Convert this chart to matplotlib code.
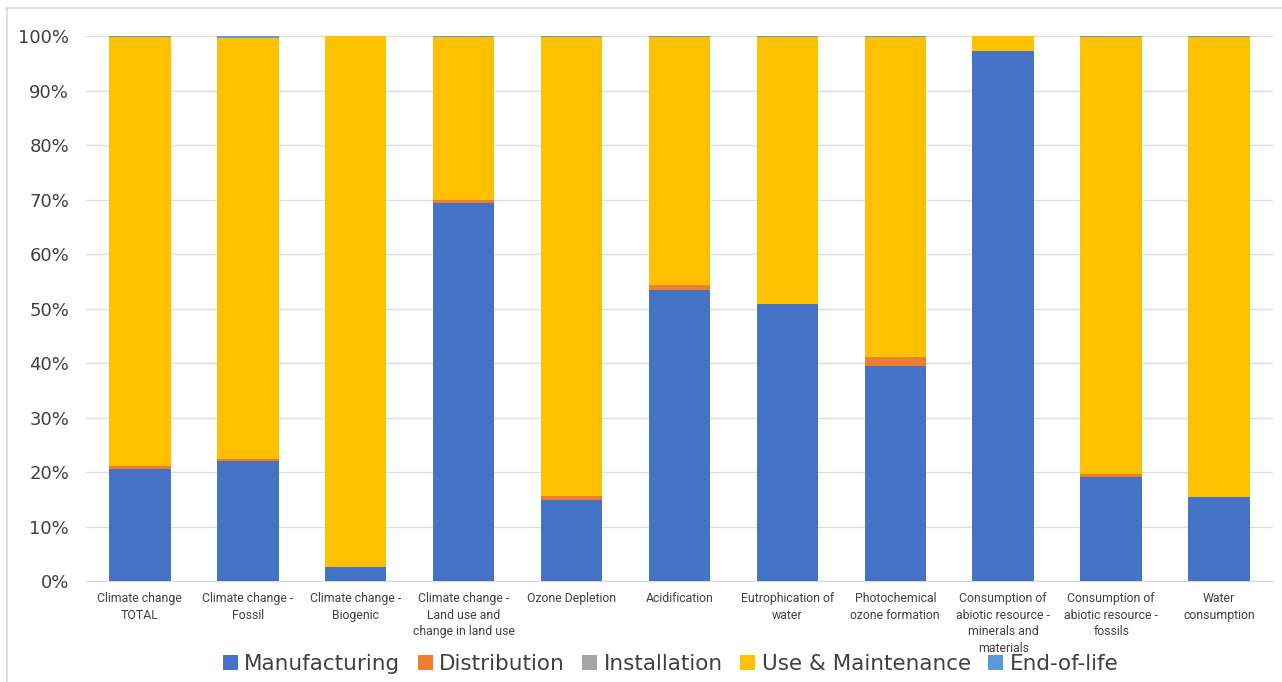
import matplotlib.pyplot as plt
import numpy as np
from matplotlib.lines import Line2D

categories = ['Climate change\nTOTAL', 'Climate change -\nFossil', 'Climate change -\nBiogenic',
              'Climate change -\nLand use and\nchange in land use', 'Ozone Depletion', 'Acidification',
              'Eutrophication of\nwater', 'Photochemical\nozone formation',
              'Consumption of\nabiotic resource -\nminerals and\nmaterials',
              'Consumption of\nabiotic resource -\nfossils', 'Water\nconsumption']

manufacturing = [20.6, 22.0, 2.5, 69.4, 14.9, 53.4, 50.9, 39.4, 97.3, 19.1, 15.4]
distribution = [0.5, 0.4, 0.0, 0.6, 0.7, 0.9, 0.0, 1.7, 0.0, 0.5, 0.1]
installation = [0.0, 0.0, 0.0, 0.0, 0.0, 0.0, 0.0, 0.0, 0.0, 0.0, 0.0]
end_of_life = [0.2, 0.3, 0.0, 0.2, 0.2, 0.2, 0.2, 0.2, 0.0, 0.2, 0.2]
use_maint = [100 - m - d - i - e for m, d, i, e in zip(manufacturing, distribution, installation, end_of_life)]

series = [('Manufacturing', manufacturing, '#4472C4'),
          ('Distribution', distribution, '#ED7D31'),
          ('Installation', installation, '#A5A5A5'),
          ('Use & Maintenance', use_maint, '#FFC000'),
          ('End-of-life', end_of_life, '#5B9BD5')]

fig = plt.figure(figsize=(12.82, 6.82), dpi=100)
ax = fig.add_axes([0.067, 0.148, 0.926, 0.799])

x = np.arange(len(categories))
bottom = np.zeros(len(categories))
for name, vals, col in series:
    vals = np.array(vals)
    ax.bar(x, vals, 0.57, bottom=bottom, color=col, label=name, zorder=3)
    bottom += vals

ax.set_xlim(-0.5, len(categories) - 0.5)
ax.set_ylim(0, 100)
ax.set_yticks(np.arange(0, 101, 10))
ax.set_yticklabels([f'{v}%' for v in range(0, 101, 10)], fontsize=13, color='#404040')
ax.set_xticks(x)
ax.set_xticklabels(categories, fontsize=8.8, color='#404040', linespacing=1.35,
                   family=['Roboto', 'DejaVu Sans'])
ax.tick_params(axis='both', length=0)
ax.tick_params(axis='x', pad=8)
ax.tick_params(axis='y', pad=12)
ax.grid(axis='y', color='#DDDDDD', linewidth=1, zorder=0)
for s in ['top', 'right', 'left']:
    ax.spines[s].set_visible(False)
ax.spines['bottom'].set_color('#D9D9D9')

fig.legend(loc='center', bbox_to_anchor=(0.523, 0.026), ncol=5, frameon=False,
           fontsize=15.5, handlelength=0.7, handleheight=0.7, handletextpad=0.3,
           columnspacing=0.8, labelcolor='#404040')

fig.add_artist(Line2D([6 / 1282, 1], [1 - 8 / 682, 1 - 8 / 682], color='#D9D9D9', lw=1.2,
                      transform=fig.transFigure))
fig.add_artist(Line2D([7 / 1282, 7 / 1282], [0, 1 - 8 / 682], color='#D9D9D9', lw=1.2,
                      transform=fig.transFigure))

plt.savefig('out.png', dpi=100)
